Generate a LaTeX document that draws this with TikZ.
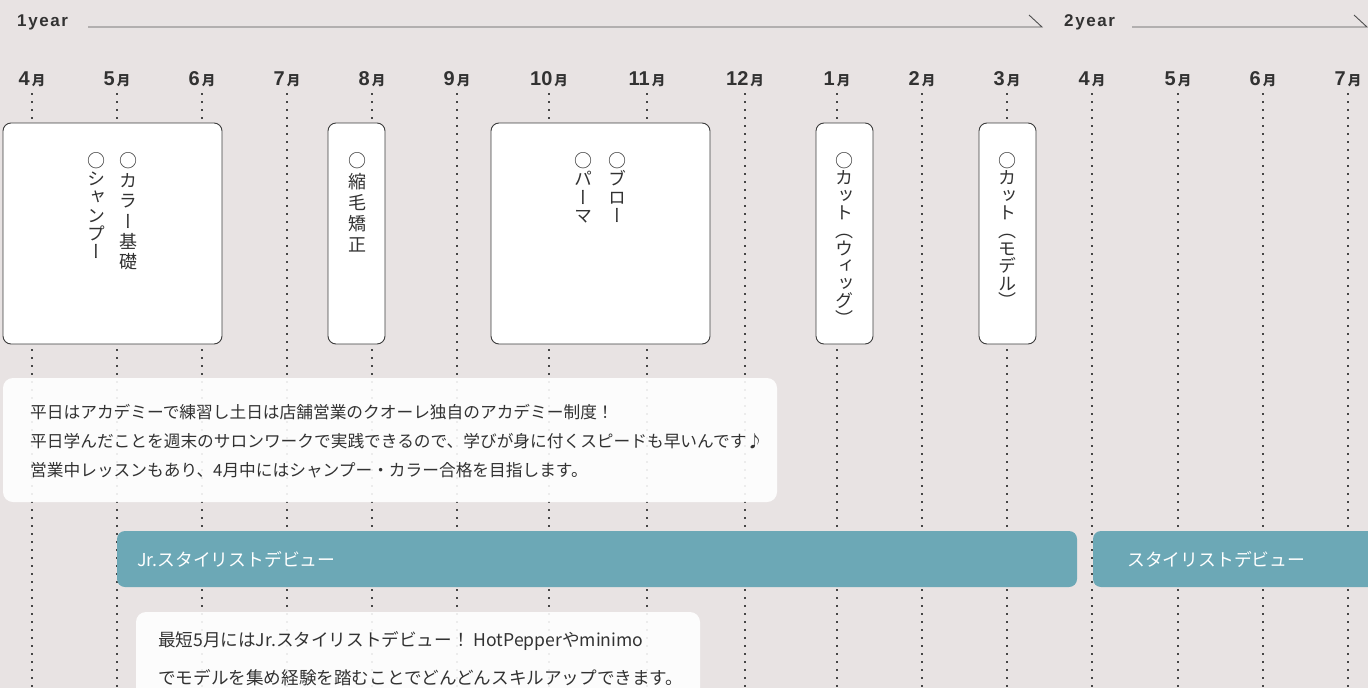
\documentclass[tikz,border=0pt]{standalone}
\usepackage{fontspec}
\setmainfont{Noto Sans CJK JP}
\newfontfamily\jpv[RawFeature=+vert]{Noto Sans CJK JP}
\newfontfamily\numf{Liberation Sans}
\definecolor{bgc}{RGB}{232,227,227}
\definecolor{tealc}{RGB}{108,168,182}
\definecolor{txtc}{RGB}{50,50,50}
\definecolor{linec}{RGB}{80,80,80}
\definecolor{dotc}{RGB}{70,70,70}
\definecolor{borderc}{RGB}{60,60,60}
\newcommand\yrlab[1]{#1\kern1.6pt y\kern1.6pt e\kern1.6pt a\kern1.6pt r}
\setlength{\lineskiplimit}{-30pt}
\begin{document}
\begin{tikzpicture}[x=1pt,y=-1pt,
  yearlbl/.style={inner sep=0pt, text=txtc, font=\numf\bfseries\fontsize{17}{17}\selectfont},
  yearline/.style={draw=linec, line width=0.9pt},
  monthlbl/.style={inner sep=0pt, anchor=base, text=txtc},
  dotline/.style={draw=dotc, line width=1.6pt, dash pattern=on 1.6pt off 6.4pt},
  vbox/.style={draw=borderc, line width=0.9pt, fill=white, rounded corners=8pt, inner sep=0pt},
  vcol/.style={inner sep=0pt, anchor=north, align=center, text=txtc,
    font=\jpv\fontsize{18}{#1}\selectfont},
  wbox/.style={fill=white, fill opacity=0.9, rounded corners=10pt, inner sep=0pt},
  btxt/.style={inner sep=0pt, anchor=west, align=left, text=txtc},
  bar/.style={fill=tealc, rounded corners=8pt, inner sep=0pt, minimum height=56pt},
  bartxt/.style={inner sep=0pt, anchor=west, text=white, font=\fontsize{17.8}{17.8}\selectfont}
]
\fill[bgc] (0,0) rectangle (1368,688);
\useasboundingbox (0,0) rectangle (1368,688);

% year labels and lines
\node[yearlbl, anchor=base west] (y1) at (17,27) {\yrlab{1}};
\node[yearlbl, anchor=base west] (y2) at (1064,27) {\yrlab{2}};
\coordinate (l1s) at (88,27);
\coordinate (l1e) at (1042,27);
\coordinate (l1t) at (1029,15);
\coordinate (l2s) at (1132,27);
\coordinate (l2e) at (1367,27);
\coordinate (l2t) at (1354,15);
\draw[yearline] (l1s) -- (l1e) -- (l1t);
\draw[yearline] (l2s) -- (l2e) -- (l2t);

% months and dotted guide lines
\foreach \x/\m [count=\i] in {32/4,117/5,202/6,287/7,372/8,457/9,549/10,647/11,745/12,837/1,922/2,1007/3,1092/4,1178/5,1263/6,1348/7} {
  \node[monthlbl] (m\i) at (\x,85) {{\numf\bfseries\fontsize{20}{20}\selectfont\m}\hspace{2pt}{\bfseries\fontsize{13.5}{13.5}\selectfont 月}};
  \coordinate (dt\i) at (\x,93);
  \coordinate (db\i) at (\x,692);
  \draw[dotline] (dt\i) -- (db\i);
}

% curriculum boxes
\node[vbox, minimum width=219pt, minimum height=221pt] (bx1) at (112.5,233.5) {};
\node[vbox, minimum width=57pt, minimum height=221pt] (bx2) at (356.5,233.5) {};
\node[vbox, minimum width=219pt, minimum height=221pt] (bx3) at (600.5,233.5) {};
\node[vbox, minimum width=57pt, minimum height=221pt] (bx4) at (844.5,233.5) {};
\node[vbox, minimum width=57pt, minimum height=221pt] (bx5) at (1007.5,233.5) {};

\node[vcol=20.3] (c1a) at (128,152) {○\\カ\\ラ\\ー\\基\\礎};
\node[vcol=18.3] (c1b) at (96,152) {○\\シ\\ャ\\ン\\プ\\ー};
\node[vcol=21] (c2) at (357,152) {○\\縮\\毛\\矯\\正};
\node[vcol=18.5] (c3a) at (617,152) {○\\ブ\\ロ\\ー};
\node[vcol=18.5] (c3b) at (583,152) {○\\パ\\ー\\マ};
\node[vcol=17.6] (c4) at (844.5,152) {○\\カ\\ッ\\ト\\（\\ウ\\ィ\\ッ\\グ\\）};
\node[vcol=17.6] (c5) at (1007.5,152) {○\\カ\\ッ\\ト\\（\\モ\\デ\\ル\\）};

% text box 1
\node[wbox, minimum width=774pt, minimum height=124pt] (tb1) at (390,440) {};
\node[btxt, font=\fontsize{16.7}{29}\selectfont] (tx1) at (30,441.5)
  {平日はアカデミーで練習し土日は店舗営業のクオーレ独自のアカデミー制度！\\
   平日学んだことを週末のサロンワークで実践できるので、学びが身に付くスピードも早いんです♪\\
   営業中レッスンもあり、4月中にはシャンプー・カラー合格を目指します。};

% teal bars
\node[bar, minimum width=960pt] (bar1) at (597,559) {};
\node[bartxt] (bt1) at (137,559) {Jr.スタイリストデビュー};
\node[bar, minimum width=300pt] (bar2) at (1243,559) {};
\node[bartxt] (bt2) at (1127,559) {スタイリストデビュー};

% text box 2
\node[wbox, minimum width=564pt, minimum height=148pt] (tb2) at (418,686) {};
\node[btxt, font=\fontsize{17.6}{38}\selectfont] (tx2) at (158,659)
  {最短5月にはJr.スタイリストデビュー！ HotPepperやminimo\\
   でモデルを集め経験を踏むことでどんどんスキルアップできます。};
\end{tikzpicture}
\end{document}
